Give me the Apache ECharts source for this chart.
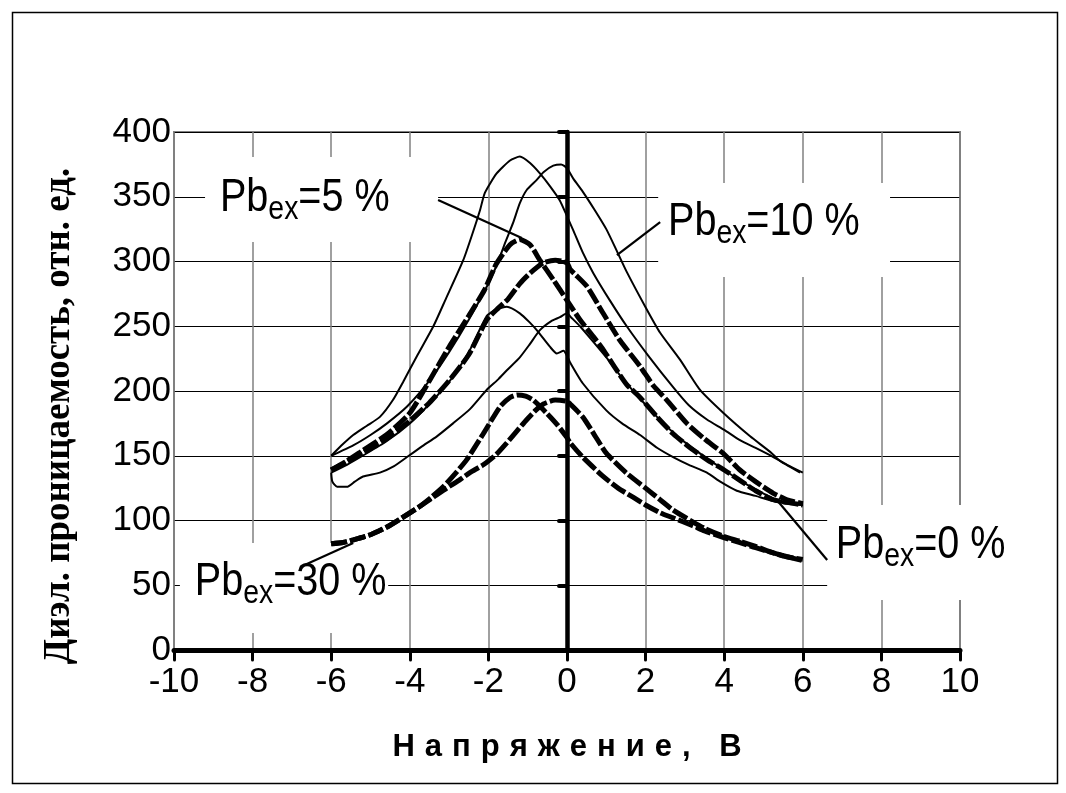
<!DOCTYPE html>
<html>
<head>
<meta charset="utf-8">
<script src="https://cdn.jsdelivr.net/npm/echarts@6/dist/echarts.min.js"></script>
<style>
  html, body { margin: 0; padding: 0; background: #fff; }
  #chart { width: 1066px; height: 793px; }
</style>
</head>
<body>
<div id="chart"></div>
<script>
// ---------------- data ----------------
const xTickLabels = ['-10', '-8', '-6', '-4', '-2', '0', '2', '4', '6', '8', '10'];
const yTickLabels = ['0', '50', '100', '150', '200', '250', '300', '350', '400'];
const xAxisTitle = 'Напряжение, В';
const yAxisTitle = 'Диэл. проницаемость, отн. ед.';
const labelTexts = ['5', '10', '0', '30'];   // Pb_ex = ... %

// Pb_ex = 10 %  (thin solid pair)
const pb10a = [[-6,150],[-5.7,159],[-5.44,166],[-5.1,173],[-4.76,180],[-4.43,193],[-4.17,207],[-3.8,228],[-3.4,250],[-3.1,270],[-2.64,301],[-2.4,322],[-2.21,340],[-2.09,353],[-1.79,368],[-1.45,378],[-1.2,381],[-0.94,376],[-0.69,368],[-0.43,358],[-0.18,347],[0,335],[0.16,324],[0.4,307],[0.67,291],[1.09,270],[1.52,250],[2.1,226],[2.7,203],[3.1,189],[3.56,178],[4.0,170],[4.4,162],[4.8,156],[5.25,149],[5.6,143],[6,137]];
const pb10b = [[-6,150],[-5.44,158],[-5.0,166],[-4.58,175],[-4.07,188],[-3.5,208],[-3.0,230],[-2.5,255],[-2.0,283],[-1.75,300],[-1.58,314],[-1.37,330],[-1.2,345],[-1.03,355],[-0.77,363],[-0.6,369],[-0.35,374],[-0.15,375],[0,372],[0.16,364],[0.4,354],[0.7,340],[1.0,325],[1.27,308],[1.52,292],[2.03,263],[2.37,245],[2.88,224],[3.38,201],[3.98,183],[4.66,165],[5.17,153],[5.42,146],[5.7,141],[5.93,137]];
// Pb_ex = 5 %  (thick dashed pair)
const pb5a = [[-6,139],[-5.6,146],[-5.2,154],[-4.6,166],[-4.0,183],[-3.5,208],[-3.0,234],[-2.5,258],[-2.1,278],[-1.8,298],[-1.45,313],[-1.2,317],[-0.94,313],[-0.69,301],[-0.35,286],[0,270],[0.33,255],[0.67,242],[0.92,232],[1.2,219],[1.52,205],[1.86,195],[2.29,180],[2.7,167],[3.1,157],[3.56,147],[4.0,139],[4.4,131],[4.8,123],[5.25,116],[5.6,114],[6,112]];
const pb5b = [[-6,139],[-5.6,145],[-5.2,152],[-4.6,163],[-4.0,177],[-3.5,191],[-3.0,208],[-2.5,228],[-2.04,255],[-1.75,264],[-1.5,271],[-1.2,283],[-0.94,291],[-0.6,299],[-0.3,301],[0,299],[0.08,294],[0.5,281],[0.92,260],[1.35,239],[1.86,219],[2.2,204],[2.54,193],[3.05,175],[3.5,163],[3.97,152],[4.4,139],[4.8,130],[5.25,121],[5.6,116],[6,113]];
// Pb_ex = 0 %  (thin solid pair)
const pb0a = [[-6,137],[-5.6,143],[-5.2,150],[-4.6,161],[-4.0,175],[-3.5,190],[-3.0,207],[-2.5,230],[-2.04,258],[-1.8,263],[-1.53,265],[-1.2,260],[-0.95,253],[-0.77,247],[-0.43,234],[-0.26,229],[-0.09,231],[0.02,226],[0.08,222],[0.4,206],[1.0,185],[1.4,175],[1.86,166],[2.3,156],[2.7,149],[3.1,143],[3.56,137],[3.9,130],[4.32,123],[4.8,119],[5.25,115],[5.6,113],[6,112]];
const pb0b = [[-6,137],[-5.97,130],[-5.85,126],[-5.6,126],[-5.4,130],[-5.19,134],[-4.76,137],[-4.4,142],[-4.07,149],[-3.7,157],[-3.31,165],[-2.9,175],[-2.47,186],[-2.04,201],[-1.75,209],[-1.53,216],[-1.2,226],[-0.95,236],[-0.69,247],[-0.4,254],[-0.18,257],[0,260],[0.1,257],[0.33,250],[0.67,238],[1.0,226],[1.3,214],[1.6,203],[1.86,194],[2.29,180],[2.7,168],[3.1,158],[3.56,148],[4.0,139],[4.4,131],[4.8,124],[5.25,117],[5.6,114],[6,112]];
// Pb_ex = 30 %  (thick dashed pair)
const pb30a = [[-6,82],[-5.7,83],[-5.44,85],[-5.0,89],[-4.58,95],[-4.2,102],[-3.74,111],[-3.45,118],[-3.15,126],[-2.85,136],[-2.55,147],[-2.13,167],[-1.7,188],[-1.45,195],[-1.27,197],[-1.05,196],[-0.86,193],[-0.52,183],[-0.25,174],[0,164],[0.08,160],[0.4,149],[0.92,134],[1.3,125],[1.68,118],[2.0,112],[2.37,106],[2.7,102],[3.2,96],[3.5,92],[3.97,87],[4.4,83],[4.8,79],[5.25,75],[5.6,72],[6,69]];
const pb30b = [[-6,82],[-5.7,83],[-5.44,85],[-5.0,89],[-4.58,95],[-4.2,102],[-3.74,111],[-3.4,118],[-3.06,125],[-2.75,131],[-2.47,137],[-2.13,143],[-1.8,151],[-1.53,160],[-1.25,170],[-1.02,178],[-0.8,185],[-0.6,190],[-0.3,193],[0,192],[0.08,190],[0.4,180],[0.7,166],[1.0,152],[1.5,137],[2.0,125],[2.37,116],[2.7,108],[3.2,99],[3.5,94],[3.97,88],[4.4,84],[4.8,80],[5.25,75],[5.6,72],[6,70]];

// ---------------- layout (annotation placement in data units) ----------------
const annotLayout = [
  { text: [-8.83, 349],  box: [[-9.21, 380.7], [-3.28, 315.1]], line: [[-3.28, 347.5], [-1.15, 318.1]] },
  { text: [2.57, 330.5], box: [[2.32, 360.6], [8.22, 288.0]],   line: [[2.37, 330.5], [1.27, 305.0]] },
  { text: [6.84, 81],    box: [[6.62, 112], [11.32, 38.6]],     line: [[6.62, 69.5], [5.34, 115.8]] },
  { text: [-9.47, 52.5], box: [[-9.85, 82.6], [-4.55, 13.1]],   line: [[-6.79, 64.1], [-5.44, 82.6]] }
];

const SANS = "'Liberation Sans', Arial, sans-serif";
const xMin = -10, xMax = 10, xStep = 2;
const yMin = 0, yMax = 400, yStep = 50;

const chart = echarts.init(document.getElementById('chart'), null, { renderer: 'canvas' });

function thin(name, data) {
  return { name, type: 'line', data, showSymbol: false, smooth: 0.2, z: 4,
    lineStyle: { color: '#000', width: 2 } };
}
function dashed(name, data) {
  return { name, type: 'line', data, showSymbol: false, smooth: 0.2, z: 3,
    lineStyle: { color: '#000', width: 5, type: [16, 3] } };
}

const spacedTitle = xAxisTitle.split('').map(c => '{c|' + c + '}').join('');

chart.setOption({
  animation: false,
  backgroundColor: '#fff',
  grid: { left: 174, right: 106, top: 132, bottom: 143, show: true,
          borderColor: '#808080', borderWidth: 2, backgroundColor: 'transparent' },
  xAxis: {
    type: 'value', min: xMin, max: xMax, interval: xStep,
    axisLine: { onZero: false, lineStyle: { color: '#000', width: 5, cap: 'round' } },
    axisTick: { length: 10, lineStyle: { color: '#000', width: 3, cap: 'round' } },
    axisLabel: { margin: 15, fontSize: 35, fontFamily: SANS, color: '#000',
      formatter: v => xTickLabels[Math.round((v - xMin) / xStep)] },
    splitLine: { show: true, lineStyle: { color: '#808080', width: 1.5 } },
    name: spacedTitle, nameLocation: 'middle', nameGap: 82,
    nameTextStyle: { rich: { c: { fontFamily: SANS, fontWeight: 'bold',
      fontSize: 31, color: '#000', padding: [0, 5, 0, 5] } } }
  },
  yAxis: [{
    type: 'value', min: yMin, max: yMax, interval: yStep, position: 'left',
    axisLine: { show: false, onZero: false },
    axisTick: { show: false },
    axisLabel: { margin: 3, fontSize: 35, fontFamily: SANS, color: '#000',
      formatter: v => yTickLabels[Math.round((v - yMin) / yStep)] },
    splitLine: { show: true, lineStyle: { color: '#000', width: 1 } },
    name: yAxisTitle, nameLocation: 'middle', nameGap: 96, nameRotate: 90,
    nameTextStyle: { fontFamily: "'Liberation Serif', 'Times New Roman', serif", fontWeight: 'bold',
      fontSize: 37, color: '#000', padding: [0, 50, 0, 0] }
  }, {
    type: 'value', min: yMin, max: yMax, interval: yStep, position: 'right',
    axisLine: { show: true, onZero: true, lineStyle: { color: '#000', width: 4.5, cap: 'round' } },
    axisTick: { show: true, inside: true, length: 8, lineStyle: { color: '#000', width: 4, cap: 'round' } },
    axisLabel: { show: false },
    splitLine: { show: false }
  }],
  series: [
    dashed('Pb 5 % a', pb5a), dashed('Pb 5 % b', pb5b),
    dashed('Pb 30 % a', pb30a), dashed('Pb 30 % b', pb30b),
    thin('Pb 10 % a', pb10a), thin('Pb 10 % b', pb10b),
    thin('Pb 0 % a', pb0a), thin('Pb 0 % b', pb0b)
  ]
});

// ---------------- annotations, placed through the axes' scales ----------------
function px(p) { return chart.convertToPixel({ gridIndex: 0 }, p); }
const graphics = [{
  type: 'rect', left: 10, top: 10, z: 10, silent: true,
  shape: { width: 1045, height: 771 },
  style: { fill: 'none', stroke: '#000', lineWidth: 1.5 }
}];
annotLayout.forEach((a, i) => {
  const b0 = px(a.box[0]), b1 = px(a.box[1]);
  graphics.push({ type: 'rect', z: 1, silent: true,
    shape: { x: b0[0], y: b0[1], width: b1[0] - b0[0], height: b1[1] - b0[1] },
    style: { fill: '#fff', stroke: null } });
  const l0 = px(a.line[0]), l1 = px(a.line[1]);
  graphics.push({ type: 'line', z: 6, silent: true,
    shape: { x1: l0[0], y1: l0[1], x2: l1[0], y2: l1[1] },
    style: { stroke: '#000', lineWidth: 2.2 } });
  const t = px(a.text);
  graphics.push({ type: 'text', z: 7, silent: true, x: t[0], y: t[1], scaleX: 0.86, scaleY: 1,
    style: {
      text: '{m|Pb}{s|ex}{m|=' + labelTexts[i] + ' %}',
      align: 'left', verticalAlign: 'middle',
      rich: {
        m: { fontFamily: SANS, fontSize: 46, fill: '#000', color: '#000' },
        s: { fontFamily: SANS, fontSize: 33, fill: '#000', color: '#000', padding: [24, 0, 0, 0] }
      }
    } });
});
chart.setOption({ graphic: graphics });
</script>
</body>
</html>
